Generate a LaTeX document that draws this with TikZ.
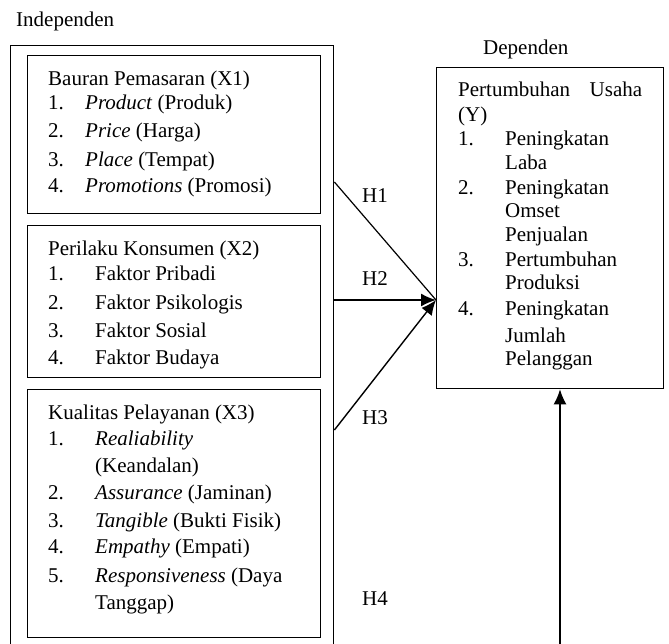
\documentclass[tikz,border=0pt]{standalone}
\usepackage{fontspec}
\setmainfont{Liberation Serif}
\usetikzlibrary{arrows.meta}
\begin{document}
\begin{tikzpicture}[x=1pt,y=-1pt,
  box/.style={draw,line width=1.4pt,inner sep=0pt,anchor=north west},
  txt/.style={anchor=base west,inner sep=0pt,font=\fontsize{21}{25}\selectfont},
  conn/.style={line width=1.4pt,-{Latex[length=15pt,width=13pt]}},
  conn1/.style={line width=1.2pt}]
\clip (0,0) rectangle (669,644);
\fill[white] (0,0) rectangle (669,644);
% boxes
\node[box,minimum width=323pt,minimum height=640pt] (indep) at (10,45) {};
\node[box,minimum width=293pt,minimum height=158pt] (x1) at (27,55) {};
\node[box,minimum width=293pt,minimum height=152pt] (x2) at (27,225) {};
\node[box,minimum width=293pt,minimum height=248pt] (x3) at (27,389) {};
\node[box,minimum width=227pt,minimum height=321pt] (yb) at (436,67) {};
% headings
\node[txt] (lindep) at (16,27) {Independen};
\node[txt] (ldep) at (483,55) {Dependen};
% box 1
\node[txt] (a0) at (48,86) {Bauran Pemasaran (X1)};
\node[txt] (a1n) at (48,110) {1.};
\node[txt] (a1) at (85,110) {\textit{Product} (Produk)};
\node[txt] (a2n) at (48,138) {2.};
\node[txt] (a2) at (85,138) {\textit{Price} (Harga)};
\node[txt] (a3n) at (48,167) {3.};
\node[txt] (a3) at (85,167) {\textit{Place} (Tempat)};
\node[txt] (a4n) at (48,193) {4.};
\node[txt] (a4) at (85,193) {\textit{Promotions} (Promosi)};
% box 2
\node[txt] (b0) at (48,256) {Perilaku Konsumen (X2)};
\node[txt] (b1n) at (48,280) {1.};
\node[txt] (b1) at (95,280) {Faktor Pribadi};
\node[txt] (b2n) at (48,309) {2.};
\node[txt] (b2) at (95,309) {Faktor Psikologis};
\node[txt] (b3n) at (48,337) {3.};
\node[txt] (b3) at (95,337) {Faktor Sosial};
\node[txt] (b4n) at (48,364) {4.};
\node[txt] (b4) at (95,364) {Faktor Budaya};
% box 3
\node[txt] (c0) at (48,419) {Kualitas Pelayanan (X3)};
\node[txt] (c1n) at (48,445) {1.};
\node[txt] (c1) at (95,445) {\textit{Realiability}};
\node[txt] (c1b) at (95,472) {(Keandalan)};
\node[txt] (c2n) at (48,499) {2.};
\node[txt] (c2) at (95,499) {\textit{Assurance} (Jaminan)};
\node[txt] (c3n) at (48,527) {3.};
\node[txt] (c3) at (95,527) {\textit{Tangible} (Bukti Fisik)};
\node[txt] (c4n) at (48,553) {4.};
\node[txt] (c4) at (95,553) {\textit{Empathy} (Empati)};
\node[txt] (c5n) at (48,582) {5.};
\node[txt] (c5) at (95,582) {\textit{Responsiveness} (Daya};
\node[txt] (c5b) at (95,609) {Tanggap)};
% Y box
\node[txt] (d0) at (458,97) {\makebox[184pt][s]{Pertumbuhan\hfill Usaha}};
\node[txt] (d0b) at (458,122) {(Y)};
\node[txt] (d1n) at (458,146) {1.};
\node[txt] (d1) at (505,146) {Peningkatan};
\node[txt] (d1b) at (505,170) {Laba};
\node[txt] (d2n) at (458,195) {2.};
\node[txt] (d2) at (505,195) {Peningkatan};
\node[txt] (d2b) at (505,218) {Omset};
\node[txt] (d2c) at (505,242) {Penjualan};
\node[txt] (d3n) at (458,267) {3.};
\node[txt] (d3) at (505,267) {Pertumbuhan};
\node[txt] (d3b) at (505,290) {Produksi};
\node[txt] (d4n) at (458,316) {4.};
\node[txt] (d4) at (505,316) {Peningkatan};
\node[txt] (d4b) at (505,342) {Jumlah};
\node[txt] (d4c) at (505,365) {Pelanggan};
% hypothesis labels
\node[txt] (h1) at (362,203) {H1};
\node[txt] (h2) at (362,285) {H2};
\node[txt] (h3) at (362,424) {H3};
\node[txt] (h4) at (362,605) {H4};
% connector coordinates
\coordinate (p1) at (indep.north east |- 0,182);
\coordinate (p2) at (indep.north east |- 0,300);
\coordinate (p3) at (indep.north east |- 0,430);
\coordinate (tip) at (yb.north west |- 0,300);
\coordinate (p4) at (560,650);
\coordinate (tip4) at (yb.south west -| 560,0);
\draw[conn1] (p1) -- (tip);
\draw[conn] (p2) -- (tip);
\draw[conn] (p3) -- (tip);
\draw[conn] (p4) -- (tip4);
\end{tikzpicture}
\end{document}
